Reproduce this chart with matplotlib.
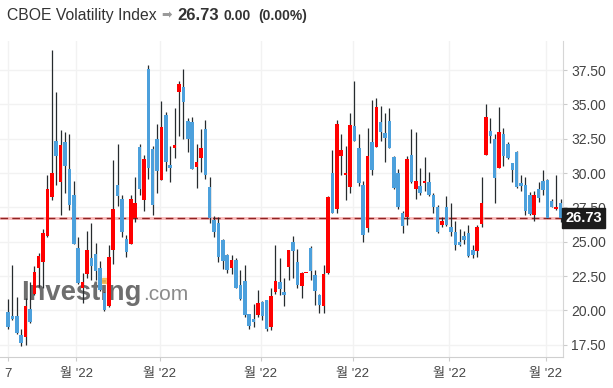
import numpy as np
import matplotlib
matplotlib.use("Agg")
import matplotlib.pyplot as plt
from matplotlib.transforms import blended_transform_factory

# daily candles (index 0 = first candle on the left)
opens = [19.89, 19.60, 19.60, 18.23, 18.09, 20.09, 21.16, 23.10, 23.50, 25.40,
         28.28, 32.33, 29.35, 32.23, 30.33, 28.38, 24.57, 21.60, 22.62, 23.80,
         24.13, 23.11, 21.26, 20.33, 24.38, 29.16, 28.13, 25.20, 24.82, 26.72,
         31.89, 28.04, 37.60, 31.74, 32.48, 29.50, 34.23, 30.57, 31.84, 35.94,
         36.28, 33.79, 33.70, 30.43, 31.11, 33.21, 29.01, 26.55, 26.38, 25.15,
         24.03, 23.06, 23.65, 21.84, 22.13, 19.70, 19.35, 19.65, 20.62, 20.77,
         18.82, 21.35, 22.04, 21.30, 23.16, 24.96, 23.55, 21.74, 22.70, 24.57,
         22.57, 21.11, 20.28, 22.72, 30.04, 27.35, 31.21, 29.84, 28.96, 33.40,
         31.79, 29.16, 25.99, 32.23, 31.89, 33.70, 32.91, 33.79, 31.16, 30.04,
         27.11, 26.77, 31.30, 28.87, 29.06, 29.26, 29.35, 28.43, 27.55, 26.23,
         27.50, 26.08, 25.74, 24.96, 25.40, 25.60, 24.43, 24.33, 26.28, 31.35,
         33.06, 32.48, 30.38, 32.87, 32.09, 30.72, 31.50, 29.30, 29.11, 28.38,
         26.96, 28.82, 29.45, 29.50, 27.99, 27.36, 27.84]
highs = [20.82, 23.30, 20.96, 18.67, 20.87, 22.04, 23.20, 24.18, 25.94, 29.84,
         39.00, 35.89, 33.11, 33.00, 32.87, 29.40, 25.35, 22.72, 25.80, 26.33,
         24.87, 23.60, 21.30, 24.77, 30.96, 32.09, 28.43, 25.50, 28.43, 29.74,
         32.09, 31.35, 37.89, 31.99, 33.55, 35.26, 34.43, 31.99, 34.72, 36.67,
         37.55, 34.04, 34.09, 32.09, 33.21, 33.84, 29.74, 26.87, 26.77, 25.20,
         24.08, 24.04, 23.79, 22.91, 23.30, 19.74, 20.48, 21.50, 20.67, 20.77,
         21.60, 24.77, 23.84, 22.38, 24.43, 25.45, 24.48, 22.77, 22.70, 24.67,
         22.96, 21.20, 23.30, 28.33, 31.65, 33.84, 32.82, 31.99, 34.38, 36.67,
         32.87, 29.45, 33.26, 35.35, 35.50, 34.87, 34.38, 34.77, 31.21, 30.28,
         27.21, 31.26, 33.21, 32.96, 30.38, 31.16, 30.09, 28.52, 27.65, 26.82,
         28.33, 27.79, 26.52, 25.90, 25.75, 26.18, 24.77, 26.23, 29.70, 35.06,
         34.04, 32.82, 34.82, 33.31, 32.23, 30.72, 31.60, 29.84, 29.74, 28.62,
         28.67, 29.35, 30.23, 29.60, 28.09, 29.84, 28.09]
lows = [18.62, 19.30, 18.30, 17.40, 17.50, 19.06, 21.10, 21.70, 21.65, 25.35,
        28.04, 29.16, 26.96, 28.52, 27.30, 24.80, 21.90, 20.52, 22.33, 22.23,
        22.18, 21.40, 19.94, 20.23, 23.40, 27.60, 25.35, 23.89, 24.80, 26.43,
        28.43, 27.26, 29.55, 26.96, 28.52, 29.50, 30.13, 29.35, 31.11, 32.72,
        32.48, 31.50, 30.28, 28.91, 30.09, 29.60, 26.33, 25.33, 23.50, 23.01,
        22.72, 22.67, 21.60, 20.77, 19.55, 18.67, 18.77, 19.55, 19.26, 18.48,
        18.57, 21.20, 21.11, 20.33, 22.18, 22.33, 21.60, 20.91, 22.70, 22.18,
        20.38, 19.80, 19.84, 22.67, 27.06, 27.11, 29.89, 28.04, 28.57, 32.33,
        29.06, 24.96, 25.74, 29.89, 31.89, 32.33, 30.77, 31.79, 28.87, 27.40,
        25.60, 26.23, 29.26, 28.13, 28.38, 28.67, 28.33, 27.11, 25.65, 26.09,
        26.13, 25.40, 24.38, 24.67, 24.82, 23.89, 23.84, 23.89, 26.09, 31.35,
        32.18, 27.84, 30.38, 30.52, 31.01, 29.35, 28.91, 28.67, 26.92, 26.92,
        26.48, 27.89, 28.38, 26.72, 27.50, 27.30, 26.43]
closes = [18.77, 19.40, 18.33, 17.60, 20.33, 19.16, 22.80, 23.94, 25.60, 28.87,
          29.99, 31.21, 32.04, 30.52, 27.70, 24.82, 21.99, 22.04, 24.38, 23.20,
          22.87, 21.45, 19.99, 23.89, 27.40, 28.33, 25.70, 24.28, 28.13, 27.79,
          28.82, 31.06, 30.35, 27.65, 30.18, 33.35, 30.82, 30.38, 32.04, 36.48,
          35.21, 32.48, 30.33, 30.82, 31.84, 29.84, 26.72, 25.72, 23.89, 23.60,
          22.96, 23.65, 21.65, 20.82, 19.65, 18.87, 19.16, 20.52, 19.60, 18.62,
          21.06, 22.13, 21.55, 21.11, 24.43, 24.33, 21.84, 22.72, 22.70, 22.87,
          21.40, 20.38, 22.67, 28.23, 27.11, 33.55, 31.65, 30.04, 33.50, 32.33,
          29.26, 25.50, 31.21, 30.23, 34.82, 33.01, 32.57, 31.84, 28.91, 27.50,
          26.13, 31.01, 29.35, 29.45, 28.57, 29.45, 28.43, 27.55, 25.74, 26.52,
          26.23, 25.74, 24.77, 24.77, 25.10, 23.99, 24.04, 26.09, 27.79, 34.09,
          32.72, 29.65, 32.96, 31.21, 31.11, 30.23, 28.96, 29.06, 27.21, 27.01,
          28.38, 28.18, 28.77, 26.72, 27.55, 27.55, 26.73]

# first candle of each month and the axis labels shown under them
month_starts = [0, 16, 35, 58, 79, 101, 123]
month_labels = ["7", "월 '22", "월 '22", "월 '22", "월 '22", "월 '22", "월 '22"]
y_ticks = [17.5, 20.0, 22.5, 25.0, 27.5, 30.0, 32.5, 35.0, 37.5]

last_price = 26.73
title_name = "CBOE Volatility Index"
title_price = "26.73"
title_change = "0.00"
title_pct = "(0.00%)"

up_color = '#ff0000'
down_color = '#4ca0dc'
wick_color = '#262b2e'
txt_color = '#333333'
fonts = ['Liberation Sans', 'Noto Sans CJK KR', 'DejaVu Sans']

W, H = 613, 388


def px(x, y):
    # figure pixel (from top-left) -> figure fraction
    return x / W, 1 - y / H


def main():
    plt.rcParams['font.family'] = fonts
    fig = plt.figure(figsize=(W / 100, H / 100), dpi=100)
    ax = fig.add_axes([0, 1 - 357 / H, 563 / W, (357 - 41) / H])

    o = np.array(opens)
    c = np.array(closes)
    hi = np.array(highs)
    lo = np.array(lows)
    idx = np.arange(len(o))
    up = c >= o
    colors = np.where(up, up_color, down_color)
    bottom = np.minimum(o, c)
    height = np.maximum(np.abs(c - o), 0.07)

    ax.vlines(idx, lo, hi, color=wick_color, lw=0.9, zorder=3)
    ax.bar(idx, height, bottom=bottom, width=0.8, color=colors, lw=0, zorder=4)

    # last price line: light pink band with dark red dashes on top
    ax.axhline(last_price, color='#f9b9b9', lw=2.0, zorder=2)
    ax.axhline(last_price, color='#8e2323', lw=1.0, ls=(0, (5.5, 3)), zorder=2.1)
    trans = blended_transform_factory(ax.transAxes, ax.transData)
    ax.text(1.004, last_price, "%.2f" % last_price, transform=trans, ha='left', va='center',
            color='white', fontsize=10.5, fontweight='bold', clip_on=False, zorder=10,
            bbox=dict(boxstyle='square,pad=0.22', fc='#1c1c1c', ec='#1c1c1c'))

    ax.set_xlim(-1.82, 126.57)
    ax.set_ylim(16.6, 39.62)

    grid_pos = [0] + [m - 0.4 for m in month_starts[1:]]
    ax.set_xticks(grid_pos)
    ax.set_xticklabels(month_labels)
    ax.set_yticks(y_ticks)
    ax.set_yticklabels(["%.2f" % v for v in y_ticks])
    ax.yaxis.tick_right()
    ax.tick_params(axis='y', length=3, color='#cccccc', labelsize=10, labelcolor='#444444', pad=3)
    ax.tick_params(axis='x', length=3, color='#cccccc', labelsize=9.5, labelcolor='#444444', pad=5)
    ax.grid(True, color='#f2f2f2', lw=1.0, zorder=0)
    ax.set_axisbelow(True)
    for side in ('top', 'left'):
        ax.spines[side].set_visible(False)
    ax.spines['right'].set_color('#d6d6d6')
    ax.spines['bottom'].set_color('#cfcfcf')

    # watermark, kept under the candles
    x, y = px(21, 300)
    ax.text(x, y, "Investing", transform=fig.transFigure, fontsize=19.7, fontweight='bold',
            color='#555555', alpha=0.85, va='baseline', ha='left', zorder=1)
    x, y = px(143, 300)
    ax.text(x, y, ".com", transform=fig.transFigure, fontsize=15, color='#777777',
            alpha=0.85, va='baseline', ha='left', zorder=1)
    x, y = px(105, 281)
    ax.add_patch(plt.Rectangle((x - 0.005, y - 0.006), 0.010, 0.013, transform=fig.transFigure,
                               color='#f7b84b', alpha=0.8, zorder=1.5, clip_on=False))

    # header line
    x, y = px(7, 20)
    fig.text(x, y, title_name, fontsize=11.3, color=txt_color, va='baseline')
    x, y = px(161, 19.5)
    fig.text(x, y, "➡", fontsize=9, color='#9a9a9a', va='baseline', family='DejaVu Sans')
    x, y = px(177, 20)
    fig.text(x, y, title_price, fontsize=12, fontweight='bold', color=txt_color, va='baseline')
    x, y = px(223, 20)
    fig.text(x, y, title_change, fontsize=10, fontweight='bold', color=txt_color, va='baseline')
    x, y = px(258, 20)
    fig.text(x, y, title_pct, fontsize=10, fontweight='bold', color=txt_color, va='baseline')

    fig.savefig('out.png', dpi=100)


if __name__ == '__main__':
    main()
